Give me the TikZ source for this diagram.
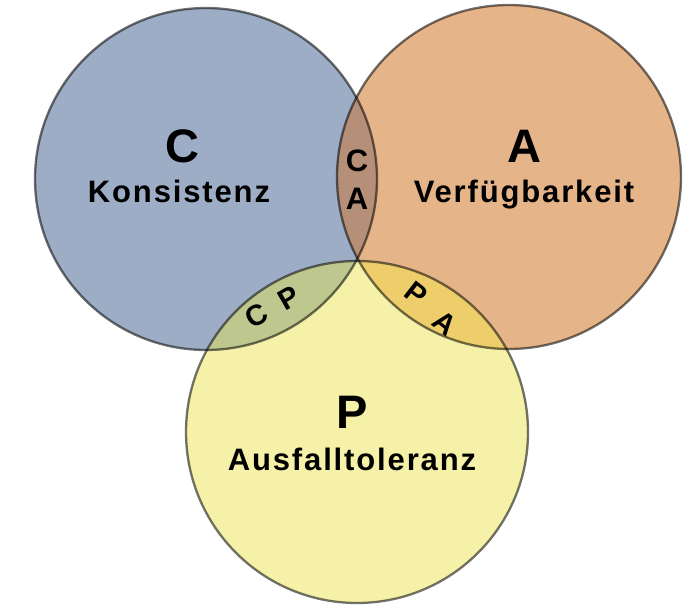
\documentclass[tikz,border=0pt]{standalone}
\usepackage{fontspec}
\setmainfont{Liberation Sans}
\newfontfamily\lblfont[LetterSpace=6]{Liberation Sans}
\definecolor{cfill}{HTML}{9CADC5}
\definecolor{afill}{HTML}{E6B489}
\definecolor{pfill}{HTML}{F6F1A9}
\definecolor{cafill}{HTML}{B58F77}
\definecolor{cpfill}{HTML}{BDC78E}
\definecolor{pafill}{HTML}{EECE6A}
\begin{document}
\begin{tikzpicture}[x=1pt,y=-1pt,
  ring/.style={draw=black,draw opacity=0.55,line width=2.3pt},
  big/.style={font=\fontsize{47}{47}\selectfont\bfseries,inner sep=0pt},
  word/.style={font=\fontsize{31}{31}\lblfont\bfseries,inner sep=0pt},
  pair/.style={font=\fontsize{31}{31}\selectfont\bfseries,inner sep=0pt},
  tilt/.style={font=\fontsize{29}{29}\selectfont\bfseries,inner sep=0pt}]
\useasboundingbox (0,0) rectangle (698,612);
\coordinate (cc) at (206,179);
\coordinate (ac) at (509,177);
\coordinate (pc) at (357,432);
\def\rc{171}
\def\ra{172}
\def\rp{171}
% base fills
\fill[cfill] (cc) circle (\rc);
\fill[afill] (ac) circle (\ra);
\fill[pfill] (pc) circle (\rp);
% overlaps
\begin{scope}
  \clip (cc) circle (\rc);
  \fill[cafill] (ac) circle (\ra);
  \fill[cpfill] (pc) circle (\rp);
\end{scope}
\begin{scope}
  \clip (ac) circle (\ra);
  \fill[pafill] (pc) circle (\rp);
\end{scope}
% outlines
\draw[ring] (cc) circle (\rc);
\draw[ring] (ac) circle (\ra);
\draw[ring] (pc) circle (\rp);
% labels
\node[big,anchor=base] (cbig) at (182,163) {C};
\node[word,anchor=base] (cword) at (179,203) {Konsistenz};
\node[big,anchor=base] (abig) at (524,163) {A};
\node[word,anchor=base] (aword) at (524,203) {Verfügbarkeit};
\node[big,anchor=base] (pbig) at (352,428) {P};
\node[word,anchor=base] (pword) at (352,470) {Ausfalltoleranz};
\node[pair,anchor=base] (cac) at (357,172) {C};
\node[pair,anchor=base] (caa) at (357,210) {A};
\node[tilt,rotate=30] (cpc) at (257,316) {C};
\node[tilt,rotate=30] (cpp) at (289,298) {P};
\node[tilt,rotate=-38] (pap) at (416,294) {P};
\node[tilt,rotate=-38] (paa) at (445,323) {A};
\end{tikzpicture}
\end{document}
